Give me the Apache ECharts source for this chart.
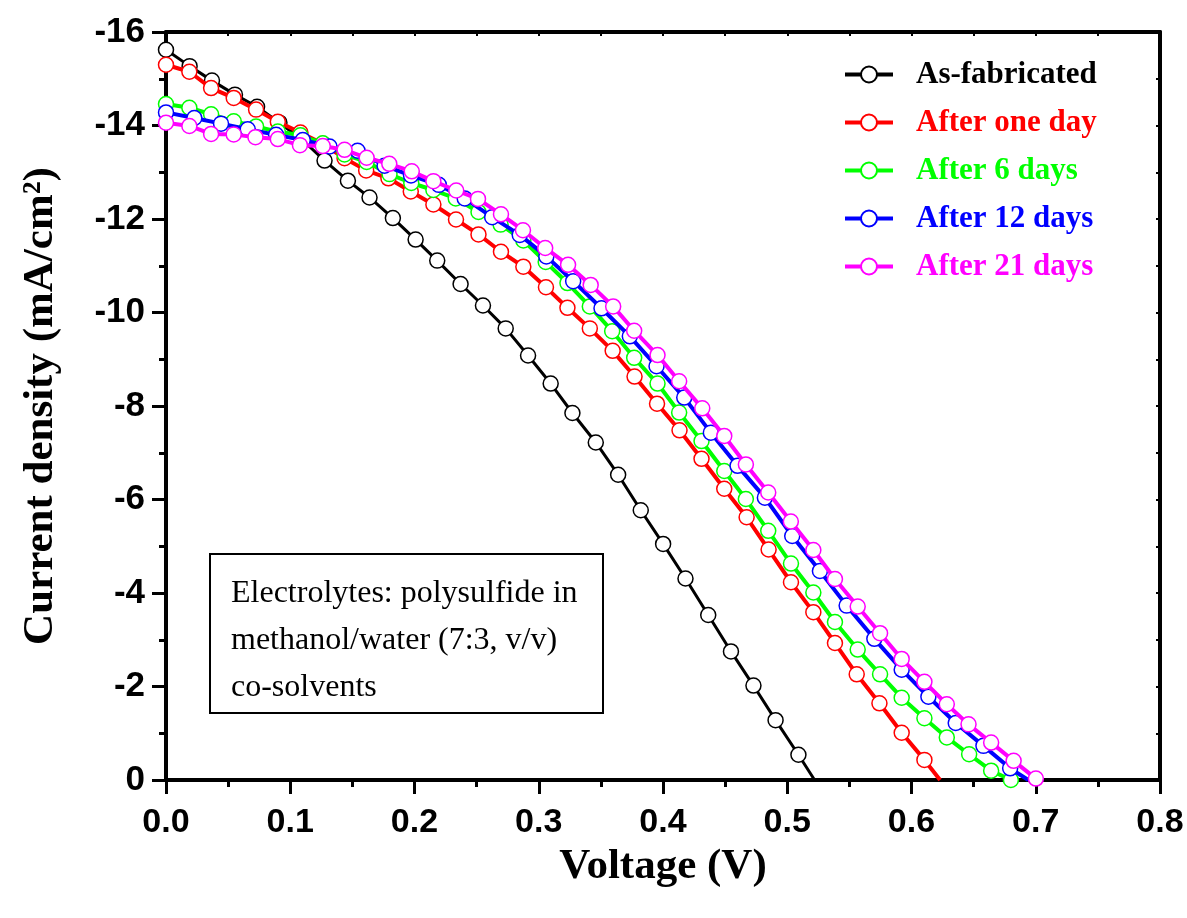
<!DOCTYPE html>
<html>
<head>
<meta charset="utf-8">
<title>J-V curves</title>
<script src="https://cdn.jsdelivr.net/npm/echarts@6/dist/echarts.min.js"></script>
<style>
  html, body { margin: 0; padding: 0; background: #fff; }
  #chart { width: 1187px; height: 918px; }
</style>
</head>
<body>
<div id="chart"></div>
<script>
// series names + colours
const seriesNames = ['As-fabricated', 'After one day', 'After 6 days', 'After 12 days', 'After 21 days'];
const seriesColors = ['#000000', '#ff0000', '#00ff00', '#0000ff', '#ff00ff'];

// [voltage (V), current density (mA/cm2)] at each marker
const asFabricated = [
  [0.000, -15.62], [0.0190, -15.27], [0.0370, -14.96], [0.0555, -14.66], [0.0733, -14.40],
  [0.0913, -14.06], [0.1094, -13.70], [0.1276, -13.25], [0.1464, -12.82], [0.1638, -12.46],
  [0.1826, -12.02], [0.2009, -11.56], [0.2183, -11.11], [0.2371, -10.61], [0.2551, -10.15],
  [0.2734, -9.66], [0.2914, -9.08], [0.3096, -8.48], [0.3271, -7.85], [0.3459, -7.22],
  [0.3639, -6.53], [0.3821, -5.77], [0.4001, -5.05], [0.4181, -4.31], [0.4364, -3.53],
  [0.4547, -2.75], [0.4728, -2.02], [0.4906, -1.28], [0.5090, -0.54]
];
const afterOneDay = [
  [0.000, -15.30], [0.0188, -15.15], [0.0363, -14.80], [0.0545, -14.59], [0.0725, -14.34],
  [0.0900, -14.08], [0.1082, -13.85], [0.1262, -13.61], [0.1437, -13.30], [0.1611, -13.04],
  [0.1790, -12.87], [0.1970, -12.59], [0.2152, -12.31], [0.2334, -11.99], [0.2515, -11.67],
  [0.2696, -11.30], [0.2876, -10.98], [0.3058, -10.54], [0.3231, -10.10], [0.3411, -9.66],
  [0.3595, -9.18], [0.3771, -8.63], [0.3952, -8.05], [0.4133, -7.48], [0.4310, -6.87],
  [0.4493, -6.23], [0.4673, -5.62], [0.4850, -4.93], [0.5030, -4.23], [0.5210, -3.59],
  [0.5384, -2.93], [0.5559, -2.26], [0.5742, -1.64], [0.5921, -1.01], [0.6104, -0.43]
];
const after6Days = [
  [0.000, -14.46], [0.0188, -14.38], [0.0363, -14.24], [0.0545, -14.09], [0.0725, -13.98],
  [0.0900, -13.87], [0.1082, -13.79], [0.1262, -13.62], [0.1437, -13.38], [0.1615, -13.22],
  [0.1799, -12.96], [0.1974, -12.77], [0.2152, -12.62], [0.2332, -12.44], [0.2515, -12.15],
  [0.2693, -11.88], [0.2876, -11.54], [0.3056, -11.08], [0.3231, -10.63], [0.3411, -10.13],
  [0.3591, -9.60], [0.3768, -9.03], [0.3956, -8.48], [0.4130, -7.86], [0.4310, -7.25],
  [0.4493, -6.61], [0.4667, -6.01], [0.4847, -5.33], [0.5030, -4.63], [0.5210, -4.01],
  [0.5384, -3.38], [0.5567, -2.79], [0.5747, -2.26], [0.5921, -1.76], [0.6104, -1.32],
  [0.6284, -0.91], [0.6464, -0.55], [0.6641, -0.20], [0.6800, 0.00]
];
const after12Days = [
  [0.000, -14.28], [0.0228, -14.16], [0.0443, -14.04], [0.0658, -13.92], [0.0886, -13.80],
  [0.1101, -13.69], [0.1316, -13.55], [0.1542, -13.46], [0.1759, -13.14], [0.1972, -12.93],
  [0.2196, -12.73], [0.2404, -12.44], [0.2625, -12.04], [0.2847, -11.66], [0.3061, -11.20],
  [0.3277, -10.67], [0.3505, -10.09], [0.3733, -9.49], [0.3948, -8.85], [0.4171, -8.18],
  [0.4385, -7.43], [0.4600, -6.72], [0.4820, -6.04], [0.5040, -5.22], [0.5263, -4.47],
  [0.5478, -3.73], [0.5701, -3.02], [0.5921, -2.36], [0.6136, -1.78], [0.6356, -1.22],
  [0.6579, -0.73], [0.6794, -0.25]
];
const after21Days = [
  [0.000, -14.06], [0.0188, -13.99], [0.0363, -13.82], [0.0545, -13.81], [0.0720, -13.75],
  [0.0900, -13.71], [0.1078, -13.58], [0.1262, -13.56], [0.1437, -13.48], [0.1615, -13.31],
  [0.1797, -13.18], [0.1978, -13.02], [0.2152, -12.81], [0.2336, -12.61], [0.2511, -12.43],
  [0.2696, -12.10], [0.2873, -11.76], [0.3052, -11.38], [0.3236, -11.02], [0.3418, -10.59],
  [0.3599, -10.13], [0.3768, -9.61], [0.3956, -9.09], [0.4130, -8.53], [0.4316, -7.95],
  [0.4493, -7.36], [0.4667, -6.75], [0.4847, -6.15], [0.5029, -5.53], [0.5210, -4.92],
  [0.5384, -4.30], [0.5567, -3.71], [0.5747, -3.14], [0.5921, -2.59], [0.6104, -2.10],
  [0.6284, -1.62], [0.6459, -1.19], [0.6641, -0.80], [0.6822, -0.41], [0.7001, -0.03]
];
// where the line (past its last marker) meets J = 0, null if it ends on a marker
const openCircuitV = [0.522, 0.623, null, 0.694, null];

const xTicks = { min: 0, max: 0.8, interval: 0.1 };
const yTicks = { min: -16, max: 0, interval: 2 };

const noteLines = [
  'Electrolytes: polysulfide in',
  'methanol/water (7:3, v/v)',
  'co-solvents'
];

const allData = [asFabricated, afterOneDay, after6Days, after12Days, after21Days];

const chart = echarts.init(document.getElementById('chart'));

const sansBold = { fontFamily: '"Liberation Sans", Arial, sans-serif', fontWeight: 'bold', color: '#000' };
const serifBold = { fontFamily: '"Liberation Serif", "Times New Roman", serif', fontWeight: 'bold', color: '#000' };

const series = allData.map((pts, i) => {
  const data = pts.map(p => ({ value: p }));
  if (openCircuitV[i] != null) {
    data.push({ value: [openCircuitV[i], 0], symbol: 'none' });
  }
  return {
    name: seriesNames[i],
    type: 'line',
    data: data,
    symbol: 'circle',
    symbolSize: 15,
    showAllSymbol: true,
    clip: false,
    lineStyle: { color: seriesColors[i], width: i === 0 ? 3 : 4 },
    itemStyle: { color: '#fff', borderColor: seriesColors[i], borderWidth: 1.5 },
    emphasis: { disabled: true },
    z: 2 + i
  };
});

const axisLineStyle = { show: true, onZero: false, lineStyle: { color: '#000', width: 4 } };

chart.setOption({
  animation: false,
  backgroundColor: '#fff',
  grid: { left: 166, right: 27, top: 32, bottom: 138 },
  legend: {
    orient: 'vertical',
    left: 838,
    top: 54,
    itemWidth: 48,
    itemHeight: 20,
    itemGap: 17,
    selectedMode: false,
    lineStyle: { width: 4 },
    textStyle: Object.assign({}, serifBold, { fontSize: 31, lineHeight: 30, padding: [0, 0, 0, 18] }),
    data: seriesNames.map((n, i) => ({
      name: n,
      textStyle: { color: seriesColors[i] }
    }))
  },
  xAxis: [
    {
      type: 'value',
      position: 'bottom',
      min: xTicks.min, max: xTicks.max, interval: xTicks.interval,
      name: 'Voltage (V)',
      nameLocation: 'middle',
      nameGap: 57,
      nameTextStyle: Object.assign({}, serifBold, { fontSize: 43 }),
      axisLine: axisLineStyle,
      axisTick: { show: true, inside: false, length: 14, lineStyle: { width: 3, color: '#000' } },
      minorTick: { show: true, splitNumber: 2, length: 7, lineStyle: { width: 3, color: '#000' } },
      splitLine: { show: false },
      axisLabel: Object.assign({}, sansBold, {
        fontSize: 34, margin: 26,
        formatter: v => v.toFixed(1)
      })
    },
    {
      type: 'value',
      position: 'top',
      min: xTicks.min, max: xTicks.max, interval: xTicks.interval,
      axisLine: axisLineStyle,
      axisTick: { show: true, inside: true, length: 4, lineStyle: { width: 2, color: '#000' } },
      minorTick: { show: true, splitNumber: 2, length: 4, lineStyle: { width: 2, color: '#000' } },
      splitLine: { show: false },
      axisLabel: { show: false }
    }
  ],
  yAxis: [
    {
      type: 'value',
      position: 'left',
      inverse: true,
      min: yTicks.min, max: yTicks.max, interval: yTicks.interval,
      name: 'Current density (mA/cm²)',
      nameLocation: 'middle',
      nameGap: 104,
      nameRotate: 90,
      nameTextStyle: Object.assign({}, serifBold, { fontSize: 43 }),
      axisLine: axisLineStyle,
      axisTick: { show: true, inside: false, length: 14, lineStyle: { width: 3, color: '#000' } },
      minorTick: { show: true, splitNumber: 2, length: 7, lineStyle: { width: 3, color: '#000' } },
      splitLine: { show: false },
      axisLabel: Object.assign({}, sansBold, { fontSize: 35, margin: 21 })
    },
    {
      type: 'value',
      position: 'right',
      inverse: true,
      min: yTicks.min, max: yTicks.max, interval: yTicks.interval,
      axisLine: axisLineStyle,
      axisTick: { show: true, inside: true, length: 4, lineStyle: { width: 2, color: '#000' } },
      minorTick: { show: true, splitNumber: 2, length: 4, lineStyle: { width: 2, color: '#000' } },
      splitLine: { show: false },
      axisLabel: { show: false }
    }
  ],
  graphic: [
    {
      type: 'group',
      left: 209,
      top: 553,
      children: [
        {
          type: 'rect',
          shape: { x: 0, y: 0, width: 393, height: 159 },
          style: { fill: '#fff', stroke: '#000', lineWidth: 2 }
        }
      ].concat(noteLines.map((t, k) => ({
        type: 'text',
        x: 21,
        y: 40 + k * 47,
        style: {
          text: t,
          font: '32px "Liberation Serif", "Times New Roman", serif',
          fill: '#000',
          verticalAlign: 'middle'
        }
      })))
    }
  ],
  series: series
});
</script>
</body>
</html>
